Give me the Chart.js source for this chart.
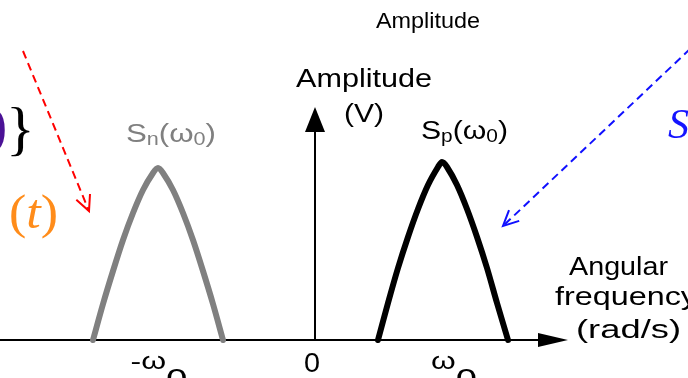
<!DOCTYPE html>
<html>
<head>
<meta charset="utf-8">
<script src="https://cdn.jsdelivr.net/npm/chart.js@4.4.0/dist/chart.umd.min.js"></script>
<style>
  html, body { margin: 0; padding: 0; background: #fff; overflow: hidden; }
</style>
</head>
<body>
<canvas id="myChart" width="688" height="378"></canvas>
<script>
// negative-frequency hump S_n (grey) and positive-frequency hump S_p (black)
// x = angular frequency (0 at the vertical axis), y = amplitude
const negFreq = [-222, -212, -202, -192, -182, -172, -162, -157, -152, -142, -132, -122, -112, -102, -92];
const negAmp  = [0, 36, 69, 100, 127, 150, 167, 172, 167, 150, 127, 100, 69, 36, 0];
const posFreq = [63, 73, 83, 93, 103, 113, 123, 127, 132, 142, 152, 162, 172, 182, 193];
const posAmp  = [0, 37, 72, 103, 131, 155, 173, 178, 173, 155, 131, 103, 72, 37, 0];

// tick labels under the frequency axis (centres)
const tickPos  = [-156, -3, 139];
const tickMain = ['-ω', '0', 'ω'];
const tickSub  = ['0', '', '0'];

const SANS = '"Liberation Sans", Arial, sans-serif';
const SERIF = '"Liberation Serif", "Times New Roman", serif';

// draw a run of text pieces (with sub-scripts) squeezed/stretched to a width
function rich(ctx, parts, x, y, w, color, family) {
    let total = 0;
    parts.forEach(p => {
        ctx.font = (p.style || '') + ' ' + p.s + 'px ' + family;
        p.w = ctx.measureText(p.t).width;
        total += p.w + (p.gap || 0);
    });
    const sx = w ? w / total : 1;
    ctx.save();
    ctx.translate(x, y);
    ctx.scale(sx, 1);
    ctx.fillStyle = color;
    ctx.textAlign = 'left';
    ctx.textBaseline = 'alphabetic';
    let cx = 0;
    parts.forEach(p => {
        ctx.font = (p.style || '') + ' ' + p.s + 'px ' + family;
        ctx.fillText(p.t, cx, p.dy || 0);
        cx += p.w + (p.gap || 0);
    });
    ctx.restore();
}

function dashedArrow(ctx, x1, y1, x2, y2, color) {
    ctx.save();
    ctx.strokeStyle = color;
    ctx.lineWidth = 2;
    ctx.setLineDash([8, 5]);
    ctx.beginPath();
    ctx.moveTo(x1, y1);
    ctx.lineTo(x2, y2);
    ctx.stroke();
    ctx.setLineDash([]);
    const a = Math.atan2(y2 - y1, x2 - x1);
    const L = 17;
    ctx.beginPath();
    ctx.moveTo(x2 - L * Math.cos(a - 0.45), y2 - L * Math.sin(a - 0.45));
    ctx.lineTo(x2, y2);
    ctx.lineTo(x2 - L * Math.cos(a + 0.45), y2 - L * Math.sin(a + 0.45));
    ctx.stroke();
    ctx.restore();
}

const axesPlugin = {
    id: 'axes',
    beforeDatasetsDraw(chart) {
        const ctx = chart.ctx, xs = chart.scales.x, ys = chart.scales.y;
        const x0 = xs.getPixelForValue(0), y0 = ys.getPixelForValue(0);
        const xEnd = xs.getPixelForValue(223), xTip = xs.getPixelForValue(253);
        const yEnd = ys.getPixelForValue(208), yTip = ys.getPixelForValue(233);
        ctx.save();
        ctx.strokeStyle = '#000';
        ctx.fillStyle = '#000';
        ctx.lineWidth = 2;
        ctx.beginPath();
        ctx.moveTo(xs.left, y0);
        ctx.lineTo(xEnd, y0);
        ctx.moveTo(x0, y0);
        ctx.lineTo(x0, yEnd);
        ctx.stroke();
        ctx.beginPath();
        ctx.moveTo(xEnd, y0 - 7);
        ctx.lineTo(xTip, y0);
        ctx.lineTo(xEnd, y0 + 7);
        ctx.closePath();
        ctx.fill();
        ctx.beginPath();
        ctx.moveTo(x0 - 10, yEnd);
        ctx.lineTo(x0, yTip);
        ctx.lineTo(x0 + 10, yEnd);
        ctx.closePath();
        ctx.fill();
        ctx.restore();
    },
    afterDatasetsDraw(chart) {
        const ctx = chart.ctx, xs = chart.scales.x;

        // tick labels
        tickMain.forEach((t, i) => {
            const c = xs.getPixelForValue(tickPos[i]);
            if (tickSub[i]) {
                const w = t.length > 1 ? 57 : 46;
                rich(ctx, [{ t: t, s: 24 }, { t: tickSub[i], s: 29, dy: 20 }], c - w / 2, 369, w, '#000', SANS);
            } else {
                rich(ctx, [{ t: t, s: 28 }], c - 8, 372, 16, '#000', SANS);
            }
        });

        // axis titles
        rich(ctx, [{ t: 'Amplitude', s: 22 }], 376, 28, 104, '#000', SANS);
        rich(ctx, [{ t: 'Amplitude', s: 25 }], 296, 87, 136, '#000', SANS);
        rich(ctx, [{ t: '(V)', s: 25 }], 344, 122, 40, '#000', SANS);
        rich(ctx, [{ t: 'Angular', s: 26 }], 569, 275, 99, '#000', SANS);
        rich(ctx, [{ t: 'frequency', s: 26 }], 555, 305, 142, '#000', SANS);
        rich(ctx, [{ t: '(rad/s)', s: 26 }], 576, 338, 105, '#000', SANS);

        // hump labels
        rich(ctx, [{ t: 'S', s: 26 }, { t: 'n', s: 18, dy: 3 }, { t: '(ω', s: 26 }, { t: '0', s: 18, dy: 3 }, { t: ')', s: 26 }],
            126, 142, 90, '#808080', SANS);
        rich(ctx, [{ t: 'S', s: 26 }, { t: 'p', s: 18, dy: 3 }, { t: '(ω', s: 26 }, { t: '0', s: 18, dy: 3 }, { t: ')', s: 26 }],
            421, 139, 87, '#000', SANS);

        // cropped pieces of the surrounding figure
        rich(ctx, [{ t: ')', s: 58 }], -12, 144, 0, '#4b1296', SERIF);
        rich(ctx, [{ t: '}', s: 60 }], 6, 148, 0, '#000', SERIF);
        rich(ctx, [{ t: '(', s: 48 }, { t: 't', s: 48, style: 'italic' }, { t: ')', s: 48 }], 9, 228, 49, '#ff8c1a', SERIF);
        rich(ctx, [{ t: 'S', s: 42, style: 'italic' }], 668, 138, 0, '#1414ff', SERIF);
        dashedArrow(ctx, 23, 51, 89, 211, '#ff0000');
        dashedArrow(ctx, 690, 49, 503, 226, '#1010ff');
    }
};

const cht = document.getElementById('myChart').getContext('2d');
const myChart = new Chart(cht, {
    type: 'scatter',
    data: {
        datasets: [{
            data: negFreq.map((f, i) => ({ x: f, y: negAmp[i] })),
            showLine: true,
            borderColor: '#808080',
            borderWidth: 6,
            borderCapStyle: 'round',
            borderJoinStyle: 'round',
            pointRadius: 0,
            tension: 0.3
        }, {
            data: posFreq.map((f, i) => ({ x: f, y: posAmp[i] })),
            showLine: true,
            borderColor: '#000000',
            borderWidth: 6,
            borderCapStyle: 'round',
            borderJoinStyle: 'round',
            pointRadius: 0,
            tension: 0.3
        }]
    },
    options: {
        responsive: false,
        animation: false,
        layout: { padding: 0 },
        plugins: { legend: { display: false }, tooltip: { enabled: false } },
        scales: {
            x: { type: 'linear', display: false, min: -315, max: 373 },
            y: { type: 'linear', display: false, min: -38, max: 340 }
        }
    },
    plugins: [axesPlugin]
});
</script>
</body>
</html>
